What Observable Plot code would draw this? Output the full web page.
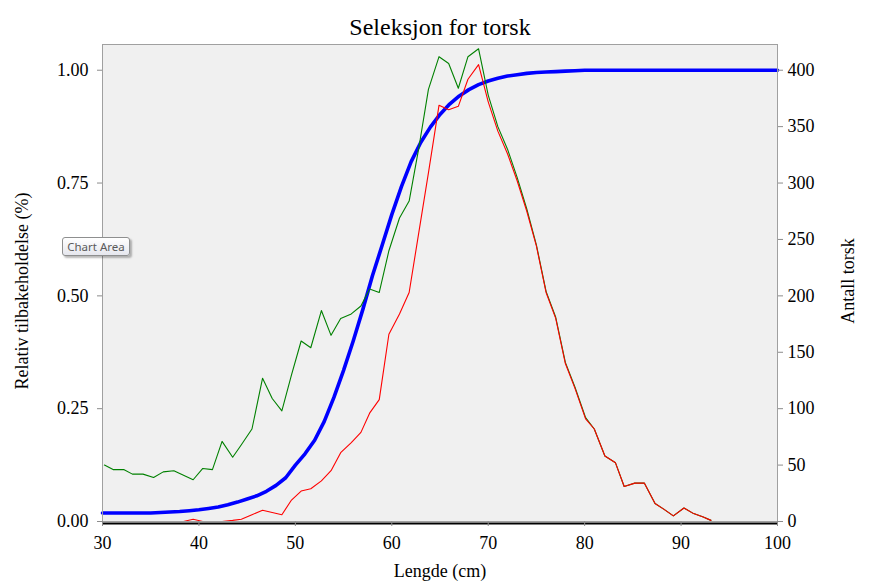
<!DOCTYPE html>
<html>
<head>
<meta charset="utf-8">
<script src="https://cdn.jsdelivr.net/npm/d3@7"></script>
<script src="https://cdn.jsdelivr.net/npm/@observablehq/plot@0.6"></script>
<style>
  html, body { margin: 0; padding: 0; background: #ffffff; }
  #wrap { position: relative; width: 875px; height: 588px; overflow: hidden; }
  #tip {
    position: absolute; left: 62px; top: 237px; width: 68px; height: 19px;
    box-sizing: border-box; border: 1px solid #8e8f8f; border-radius: 3px;
    background: linear-gradient(#ffffff, #e6e7ee);
    box-shadow: 2px 2px 2px rgba(0,0,0,0.28);
    font: 11.5px "Noto Sans", "Open Sans", sans-serif; color: #5a5a5a;
    line-height: 17px; text-align: center;
  }
</style>
</head>
<body>
<div id="wrap"></div>
<script>
// ---- data ----
const title = "Seleksjon for torsk";
const xLabel = "Lengde (cm)";
const yLeftLabel = "Relativ tilbakeholdelse (%)";
const yRightLabel = "Antall torsk";
const tooltipText = "Chart Area";

const xTicks = [30, 40, 50, 60, 70, 80, 90, 100];
const leftTicks = [0, 0.25, 0.5, 0.75, 1.0];
const rightTicks = [0, 50, 100, 150, 200, 250, 300, 350, 400];
const rightMax = 400; // right axis value at left-axis 1.00

// length classes of the two count series (cm)
const lengths = [30.2, 31.1, 32.2, 33.1, 34.2, 35.3, 36.3, 37.4, 38.4, 39.4,
  40.4, 41.4, 42.4, 43.5, 44.4, 45.5, 46.6, 47.6, 48.6, 49.6,
  50.6, 51.6, 52.7, 53.7, 54.7, 55.8, 56.8, 57.7, 58.7, 59.7,
  60.8, 61.8, 62.8, 63.8, 64.9, 65.9, 66.9, 67.9, 69.0, 70.0,
  71.0, 72.0, 73.0, 74.0, 75.0, 76.0, 77.0, 78.0, 79.0, 80.1,
  81.0, 82.1, 83.2, 84.1, 85.2, 86.2, 87.3, 88.2, 89.2, 90.3,
  91.3, 92.3, 93.1];

// green: total number of cod
const totalCount = [50, 46, 46, 42, 42, 39, 44, 45, 41, 37,
  47, 46, 71, 57, 68, 82, 127, 109, 98, 130,
  160, 154, 187, 165, 180, 184, 191, 206, 203, 240,
  269, 284, 331, 383, 412, 406, 384, 412, 419, 378,
  350, 330, 305, 277, 245, 204, 181, 141, 119, 92,
  82, 58, 52, 31, 34, 34, 16, 11, 5, 12,
  7, 4, 1];

// red: retained number of cod
const retainedCount = [0, 0, 0, 0, 0, 0, 0, 0, 0, 2,
  0, 0, 0, 1, 2, 6, 10, 8, 6, 19,
  27, 29, 36, 45, 61, 70, 79, 96, 108, 166,
  184, 203, 256, 309, 369, 365, 368, 392, 405, 372,
  346, 326, 302, 275, 244, 203, 180, 140, 118, 91,
  82, 58, 52, 31, 34, 34, 16, 11, 5, 12,
  7, 4, 1];

// blue: relative retention (selection curve)
const selLengths = [30, 31, 32, 33, 34, 35, 36, 37, 38, 39,
  40, 41, 42, 43, 44, 45, 46, 47, 48, 49,
  50, 51, 52, 53, 54, 55, 56, 57, 58, 59,
  60, 61, 62, 63, 64, 65, 66, 67, 68, 69,
  70, 71, 72, 73, 74, 75, 76, 77, 78, 79,
  80, 81, 82, 83, 84, 85, 86, 87, 88, 89,
  90, 91, 92, 93, 94, 95, 96, 97, 98, 99, 100];
const selection = [0.019, 0.019, 0.019, 0.019, 0.019, 0.019, 0.020, 0.021, 0.022, 0.024,
  0.026, 0.029, 0.032, 0.037, 0.043, 0.050, 0.057, 0.067, 0.080, 0.097,
  0.125, 0.150, 0.180, 0.222, 0.275, 0.335, 0.400, 0.470, 0.545, 0.612,
  0.680, 0.742, 0.797, 0.840, 0.874, 0.902, 0.925, 0.943, 0.957, 0.968,
  0.976, 0.982, 0.987, 0.990, 0.993, 0.995, 0.996, 0.997, 0.998, 0.999,
  1.0, 1.0, 1.0, 1.0, 1.0, 1.0, 1.0, 1.0, 1.0, 1.0,
  1.0, 1.0, 1.0, 1.0, 1.0, 1.0, 1.0, 1.0, 1.0, 1.0, 1.0];

// ---- tables built from the arrays ----
const counts = lengths.map((x, i) => ({x, total: totalCount[i] / rightMax, retained: retainedCount[i] / rightMax}));
const sel = selLengths.map((x, i) => ({x, y: selection[i]}));

const serif = "'Liberation Serif', 'DejaVu Serif', serif";

const chart = Plot.plot({
  width: 875,
  height: 588,
  marginLeft: 102,
  marginRight: 98,
  marginTop: 44,
  marginBottom: 67,
  style: {fontFamily: serif, fontSize: "18px", background: "#ffffff", color: "#000000"},
  x: {domain: [30, 100]},
  y: {domain: [0, 1.057]},
  marks: [
    Plot.frame({fill: "#f0f0f0", stroke: null}),
    Plot.line(sel, {x: "x", y: "y", stroke: "#0000ff", strokeWidth: 3.6}),
    Plot.line(counts, {x: "x", y: "total", stroke: "#008000", strokeWidth: 1.1}),
    Plot.line(counts, {x: "x", y: "retained", stroke: "#ff0000", strokeWidth: 1.1}),
    Plot.frame({stroke: "#a0a0a0", strokeWidth: 1}),
    Plot.ruleY([0], {stroke: "#000000", strokeWidth: 2, dy: 2}),
    Plot.axisX(xTicks, {tickSize: 5, tickPadding: 10, stroke: "#8c8c8c", fill: "#000000", fontSize: 18, label: null}),
    Plot.axisY(leftTicks, {anchor: "left", tickSize: 5, tickPadding: 9, stroke: "#8c8c8c", fill: "#000000", fontSize: 18, tickFormat: d3.format(".2f"), label: null}),
    Plot.axisY(rightTicks.map(v => v / rightMax), {anchor: "right", tickSize: 5, tickPadding: 5, stroke: "#8c8c8c", fill: "#000000", fontSize: 18, tickFormat: d => String(Math.round(d * rightMax)), label: null}),
    Plot.text([title], {frameAnchor: "top", lineAnchor: "middle", textAnchor: "middle", dy: -17, fontSize: 24, fill: "#000000"}),
    Plot.text([xLabel], {frameAnchor: "bottom", lineAnchor: "middle", textAnchor: "middle", dy: 50, fontSize: 18, fill: "#000000"}),
    Plot.text([yLeftLabel], {frameAnchor: "left", lineAnchor: "middle", textAnchor: "middle", dx: -80, dy: 8, rotate: -90, fontSize: 18, fill: "#000000"}),
    Plot.text([yRightLabel], {frameAnchor: "right", lineAnchor: "middle", textAnchor: "middle", dx: 71, dy: -2, rotate: -90, fontSize: 18, fill: "#000000"})
  ]
});

const wrap = document.getElementById("wrap");
wrap.appendChild(chart);
const tip = document.createElement("div");
tip.id = "tip";
tip.textContent = tooltipText;
wrap.appendChild(tip);
</script>
</body>
</html>
